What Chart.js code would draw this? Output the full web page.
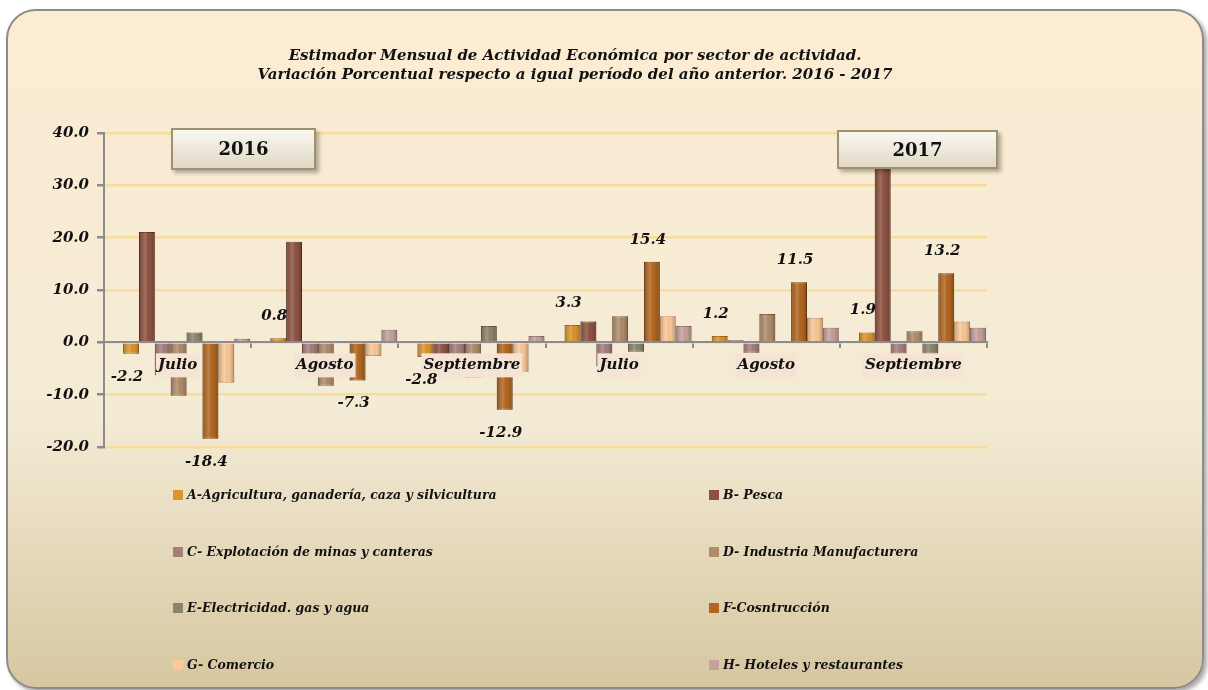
<!DOCTYPE html>
<html>
<head>
<meta charset="utf-8">
<script src="https://cdn.jsdelivr.net/npm/chart.js@4.4.0/dist/chart.umd.min.js"></script>
<style>
  html, body { margin: 0; padding: 0; background: #ffffff; }
  #panel {
    position: absolute; left: 6px; top: 9px; width: 1194px; height: 676px;
    border: 2px solid #8c8c8c; border-radius: 30px;
    background: linear-gradient(#fcecd2, #f4ebd6 60%, #d6c7a0);
    box-shadow: 3px 3px 4px rgba(0,0,0,0.35);
  }
  #chart { position: absolute; left: 0; top: 0; }
  #title {
    position: absolute; left: 0; top: 46px; width: 1150px; text-align: center;
    font: bold italic 15px "DejaVu Serif"; line-height: 19px; color: #111;
  }
  .year {
    position: absolute; text-align: center; color: #111;
    font: bold 18px "DejaVu Serif";
    background: linear-gradient(#faf8f2, #e0d8c4);
    border: 2px solid #a0906c; box-sizing: border-box;
    box-shadow: 3px 3px 4px rgba(0,0,0,0.3);
  }
  .item {
    position: absolute; font: bold italic 12.5px "DejaVu Serif"; color: #111;
    white-space: nowrap; line-height: 16px;
  }
  .item span {
    display: inline-block; width: 10px; height: 10px; margin-right: 4px;
    vertical-align: -1px;
  }
</style>
</head>
<body>
<div id="panel"></div>
<canvas id="chart" width="1208" height="690"></canvas>
<div id="title">Estimador Mensual de Actividad Económica por sector de actividad.<br>Variación Porcentual respecto a igual período del año anterior. 2016 - 2017</div>
<div class="year" style="left:171px;top:128px;width:145px;height:42px;line-height:38px;">2016</div>
<div class="year" style="left:837px;top:130px;width:161px;height:39px;line-height:35px;">2017</div>
<div id="legend"></div>
<script>
  // meses: 3 de 2016 y 3 de 2017
  const labels = ["Julio", "Agosto", "Septiembre", "Julio", "Agosto", "Septiembre"];

  const agricultura  = [-2.2, 0.8, -2.8, 3.3, 1.2, 1.9];
  const pesca        = [21.1, 19.2, -2.4, 4.0, 0.4, 36.0];
  const minas        = [-6.3, -3.0, -2.6, -4.6, -2.0, -2.2];
  const industria    = [-10.2, -8.3, -6.7, 5.0, 5.4, 2.1];
  const electricidad = [1.9, 0.0, 3.1, -1.8, 0.0, -2.2];
  const construccion = [-18.4, -7.3, -12.9, 15.4, 11.5, 13.2];
  const comercio     = [-7.7, -2.6, -5.6, 5.0, 4.7, 4.0];
  const hoteles      = [0.7, 2.4, 1.2, 3.1, 2.8, 2.8];

  const sectores = [
    "A-Agricultura, ganadería, caza y silvicultura",
    "B- Pesca",
    "C- Explotación de minas y canteras",
    "D- Industria Manufacturera",
    "E-Electricidad. gas y agua",
    "F-Cosntrucción",
    "G- Comercio",
    "H- Hoteles y restaurantes"
  ];
  const yTicks = [-20, -10, 0, 10, 20, 30, 40];

  const colors  = ["#dc952c", "#8f5242", "#a57f7c", "#b08c6a", "#8c846a", "#b3661f", "#fcc895", "#c6a29c"];
  const borders = ["#a86a18", "#63352a", "#7a5856", "#80643f", "#625c48", "#7d4512", "#d49a66", "#977570"];

  const series = [agricultura, pesca, minas, industria, electricidad, construccion, comercio, hoteles];
  const withLabels = [0, 5];   // solo A y F llevan etiqueta

  const datasets = series.map(function (vals, i) {
    return {
      label: sectores[i],
      data: vals,
      backgroundColor: colors[i],
      borderColor: borders[i],
      borderWidth: 1
    };
  });

  const serif = "DejaVu Serif";
  const shift = 9;   // en el original las barras van corridas a la derecha del centro

  // barras con brillo tipo cilindro y etiquetas de A y F
  const barLook = {
    id: "barLook",
    beforeDatasetsDraw(chart) {
      chart.ctx.save();
      chart.ctx.translate(shift, 0);
    },
    afterDatasetsDraw(chart) {
      const ctx = chart.ctx;
      chart.data.datasets.forEach(function (ds, i) {
        chart.getDatasetMeta(i).data.forEach(function (el) {
          const top = Math.min(el.y, el.base), h = Math.abs(el.base - el.y);
          if (h < 0.5) return;
          const l = el.x - el.width / 2;
          const g = ctx.createLinearGradient(l, 0, l + el.width, 0);
          g.addColorStop(0, "rgba(0,0,0,0.22)");
          g.addColorStop(0.4, "rgba(255,255,255,0.16)");
          g.addColorStop(0.7, "rgba(0,0,0,0.02)");
          g.addColorStop(1, "rgba(0,0,0,0.25)");
          ctx.fillStyle = g;
          ctx.fillRect(l, top, el.width, h);
        });
      });
      ctx.restore();
    },
    afterDraw(chart) {
      const ctx = chart.ctx;
      ctx.save();
      ctx.font = "bold italic 15px " + serif;
      ctx.fillStyle = "#111";
      ctx.textAlign = "center";
      ctx.textBaseline = "middle";
      withLabels.forEach(function (i) {
        chart.getDatasetMeta(i).data.forEach(function (el, j) {
          const v = series[i][j];
          const y = v >= 0 ? el.y - 22 : el.y + 23;
          ctx.fillText(v.toFixed(1), el.x + shift - 4, y);
        });
      });
      ctx.restore();
    }
  };

  new Chart(document.getElementById("chart"), {
    type: "bar",
    data: { labels: labels, datasets: datasets },
    plugins: [barLook],
    options: {
      responsive: false,
      animation: false,
      layout: { padding: { left: 0, top: 133, right: 221, bottom: 243 } },
      datasets: { bar: { categoryPercentage: 0.863, barPercentage: 1 } },
      plugins: { legend: { display: false }, tooltip: { enabled: false } },
      scales: {
        x: {
          position: { y: 0 },
          grid: { drawOnChartArea: false, tickLength: 5, tickColor: "#8c8c8c", lineWidth: 2 },
          border: { color: "#8c8c8c", width: 2 },
          ticks: {
            z: 2,
            font: { family: serif, size: 15, style: "italic", weight: "bold" },
            color: "#111",
            padding: 9,
            showLabelBackdrop: true,
            backdropColor: "#f5e4d4",
            backdropPadding: { x: 2, y: 3 }
          }
        },
        y: {
          min: yTicks[0],
          max: yTicks[yTicks.length - 1],
          afterFit: function (s) { s.width = 104; },
          afterBuildTicks: function (s) { s.ticks = yTicks.map(v => ({ value: v })); },
          grid: { color: "#f7dc9e", lineWidth: 2.5, tickColor: "#8c8c8c", tickLength: 7 },
          border: { color: "#8c8c8c", width: 2 },
          ticks: {
            callback: v => v.toFixed(1),
            font: { family: serif, size: 15, style: "italic", weight: "bold" },
            color: "#111",
            padding: 8
          }
        }
      }
    }
  });

  // leyenda en dos columnas
  const legend = document.getElementById("legend");
  sectores.forEach(function (name, i) {
    const d = document.createElement("div");
    d.className = "item";
    d.style.left = (i % 2 === 0 ? 173 : 709) + "px";
    d.style.top = (487 + Math.floor(i / 2) * 56.7) + "px";
    d.innerHTML = '<span style="background:' + colors[i] + '"></span>' + name;
    legend.appendChild(d);
  });
</script>
</body>
</html>
